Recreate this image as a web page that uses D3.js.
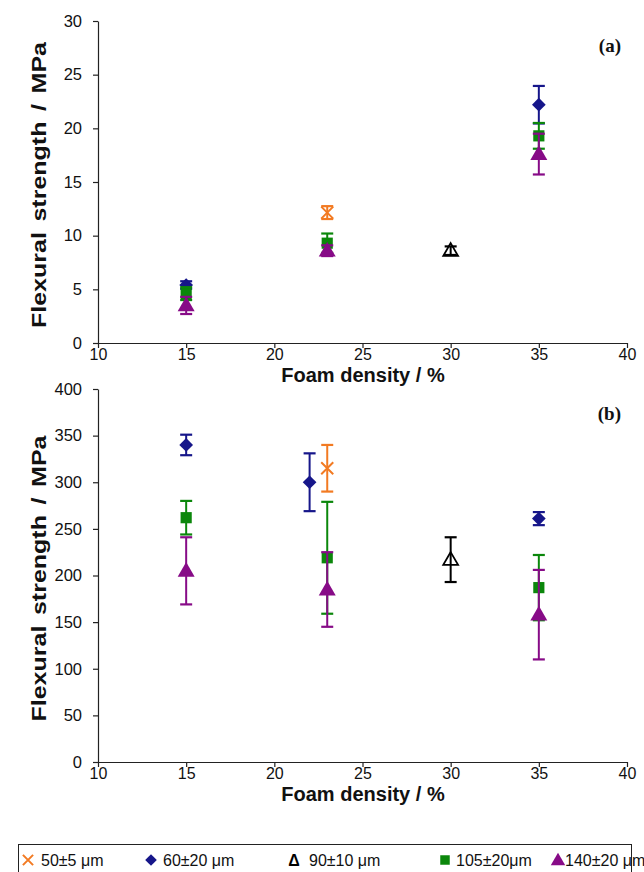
<!DOCTYPE html>
<html>
<head>
<meta charset="utf-8">
<script src="https://cdn.jsdelivr.net/npm/d3@7"></script>
<style>
  html, body { margin: 0; padding: 0; background: #fff; }
  svg { display: block; font-family: "Liberation Sans", Arial, sans-serif; }
</style>
</head>
<body>
<svg id="chart" width="644" height="872"></svg>
<script>
// Pore size classes (legend order)
const seriesNames = ["50±5 μm", "60±20 μm", "90±10 μm", "105±20μm", "140±20 μm"];
const seriesColors = ["#f27a22", "#16168a", "#000000", "#0b870b", "#870b87"];
const seriesSymbols = ["cross", "diamond", "triangleOpen", "square", "triangle"];

// Panel (a): flexural strength, MPa — [foam density %, mean, error]
const panelA_50 = [[23, 12.15, 0.6]];
const panelA_60 = [[15, 5.4, 0.35], [35, 22.2, 1.75]];
const panelA_90 = [[30, 8.6, 0.4]];
const panelA_105 = [[15, 4.6, 0.6], [23, 9.3, 0.9], [35, 19.3, 1.2]];
const panelA_140 = [[15, 3.5, 0.8], [23, 8.6, 0.5], [35, 17.6, 1.9]];

// Panel (b)
const panelB_50 = [[23, 315, 25]];
const panelB_60 = [[15, 340, 11], [22, 300, 31], [35, 261, 7]];
const panelB_90 = [[30, 217, 24]];
const panelB_105 = [[15, 262, 18], [23, 219, 60], [35, 187, 35]];
const panelB_140 = [[15, 205, 36], [23, 185, 40], [35, 158, 48]];

const xTicks = [10, 15, 20, 25, 30, 35, 40];
const yTicksA = [0, 5, 10, 15, 20, 25, 30];
const yTicksB = [0, 50, 100, 150, 200, 250, 300, 350, 400];

const svg = d3.select("#chart");
const X0 = 98, X1 = 627;

function drawPanel(cfg) {
  const x = d3.scaleLinear().domain([10, 40]).range([X0, X1]);
  const y = d3.scaleLinear().domain(cfg.yDomain).range(cfg.yRange);
  const g = svg.append("g");

  const yAxis = g.append("g")
    .attr("transform", `translate(${X0},0)`)
    .call(d3.axisLeft(y).tickValues(cfg.yTicks).tickSize(5).tickPadding(11).tickSizeOuter(0));
  const xAxis = g.append("g")
    .attr("transform", `translate(0,${cfg.yRange[0]})`)
    .call(d3.axisBottom(x).tickValues(xTicks).tickSize(5).tickPadding(1).tickSizeOuter(0));
  [xAxis, yAxis].forEach(a => {
    a.selectAll("path, line").attr("stroke", "#222").attr("stroke-width", 1.2);
    a.selectAll("text").attr("fill", "#111").style("font-size", "16.5px")
      .style("font-family", "'Liberation Sans', Arial, sans-serif");
  });
  xAxis.selectAll("text").style("font-size", "16px");

  // vertical title, stretched along its reading direction
  g.append("text")
    .attr("transform", `translate(46,${(cfg.yRange[0] + cfg.yRange[1]) / 2 + 3}) rotate(-90) scale(1.22,1)`)
    .attr("text-anchor", "middle")
    .style("font-size", "20.5px").style("font-weight", "bold").attr("fill", "#111")
    .style("word-spacing", "3px")
    .text("Flexural strength / MPa");

  g.append("text")
    .attr("x", 363).attr("y", cfg.yRange[0] + 39)
    .attr("text-anchor", "middle")
    .style("font-size", "20px").style("font-weight", "bold").attr("fill", "#111")
    .text("Foam density / %");

  g.append("text")
    .attr("x", 621).attr("y", cfg.yRange[1] + 31)
    .attr("text-anchor", "end")
    .style("font-family", "'Liberation Serif', 'Times New Roman', serif")
    .style("font-size", "19px").style("font-weight", "bold").attr("fill", "#111")
    .text(cfg.tag);

  cfg.series.forEach((data, i) => {
    const color = seriesColors[i];
    const sg = g.append("g");
    const pts = sg.selectAll("g.pt").data(data).enter().append("g").attr("class", "pt");
    // error bars
    pts.append("line")
      .attr("x1", d => x(d[0])).attr("x2", d => x(d[0]))
      .attr("y1", d => y(d[1] - d[2])).attr("y2", d => y(d[1] + d[2]))
      .attr("stroke", color).attr("stroke-width", 2);
    [-1, 1].forEach(s => {
      pts.append("line")
        .attr("x1", d => x(d[0]) - 6).attr("x2", d => x(d[0]) + 6)
        .attr("y1", d => y(d[1] + s * d[2])).attr("y2", d => y(d[1] + s * d[2]))
        .attr("stroke", color).attr("stroke-width", 2.2);
    });
    pts.each(function (d) {
      drawMarker(d3.select(this), seriesSymbols[i], x(d[0]), y(d[1]), color, 1);
    });
  });
}

function drawMarker(sel, kind, cx, cy, color, scale) {
  if (kind === "cross") {
    const r = 6 * scale;
    sel.append("path")
      .attr("d", `M${cx - r},${cy - r}L${cx + r},${cy + r}M${cx - r},${cy + r}L${cx + r},${cy - r}`)
      .attr("stroke", color).attr("stroke-width", 2).attr("fill", "none");
  } else if (kind === "diamond") {
    sel.append("path")
      .attr("d", d3.symbol().type(d3.symbolDiamond2).size(120 * scale * scale)())
      .attr("transform", `translate(${cx},${cy})`).attr("fill", color);
  } else if (kind === "square") {
    sel.append("path")
      .attr("d", d3.symbol().type(d3.symbolSquare).size(125 * scale * scale)())
      .attr("transform", `translate(${cx},${cy})`).attr("fill", color);
  } else if (kind === "triangle") {
    sel.append("path")
      .attr("d", d3.symbol().type(d3.symbolTriangle).size(125 * scale * scale)())
      .attr("transform", `translate(${cx},${cy + 1})`).attr("fill", color);
  } else if (kind === "triangleOpen") {
    sel.append("path")
      .attr("d", d3.symbol().type(d3.symbolTriangle).size(95 * scale * scale)())
      .attr("transform", `translate(${cx},${cy + 1})`)
      .attr("fill", "none").attr("stroke", color).attr("stroke-width", 1.8);
  }
}

drawPanel({
  yDomain: [0, 30], yRange: [343, 21], yTicks: yTicksA, tag: "(a)",
  series: [panelA_50, panelA_60, panelA_90, panelA_105, panelA_140]
});
drawPanel({
  yDomain: [0, 400], yRange: [762, 389], yTicks: yTicksB, tag: "(b)",
  series: [panelB_50, panelB_60, panelB_90, panelB_105, panelB_140]
});

// Legend
const legend = svg.append("g");
legend.append("rect")
  .attr("x", 18.5).attr("y", 844.5).attr("width", 613).attr("height", 32)
  .attr("fill", "none").attr("stroke", "#222").attr("stroke-width", 1);
const legendMarkX = [28, 151, 294, 445, 558];
const legendTextX = [41, 163, 309, 456, 565];
seriesNames.forEach((name, i) => {
  const item = legend.append("g");
  if (seriesSymbols[i] === "triangleOpen") {
    item.append("text").attr("x", legendMarkX[i]).attr("y", 866).attr("text-anchor", "middle")
      .style("font-size", "16px").style("font-weight", "bold").attr("fill", "#000").text("Δ");
  } else {
    drawMarker(item, seriesSymbols[i], legendMarkX[i], 860, seriesColors[i], 0.85);
  }
  item.append("text")
    .attr("x", legendTextX[i]).attr("y", 866)
    .style("font-size", "16px").attr("fill", "#111")
    .text(name);
});
</script>
</body>
</html>
